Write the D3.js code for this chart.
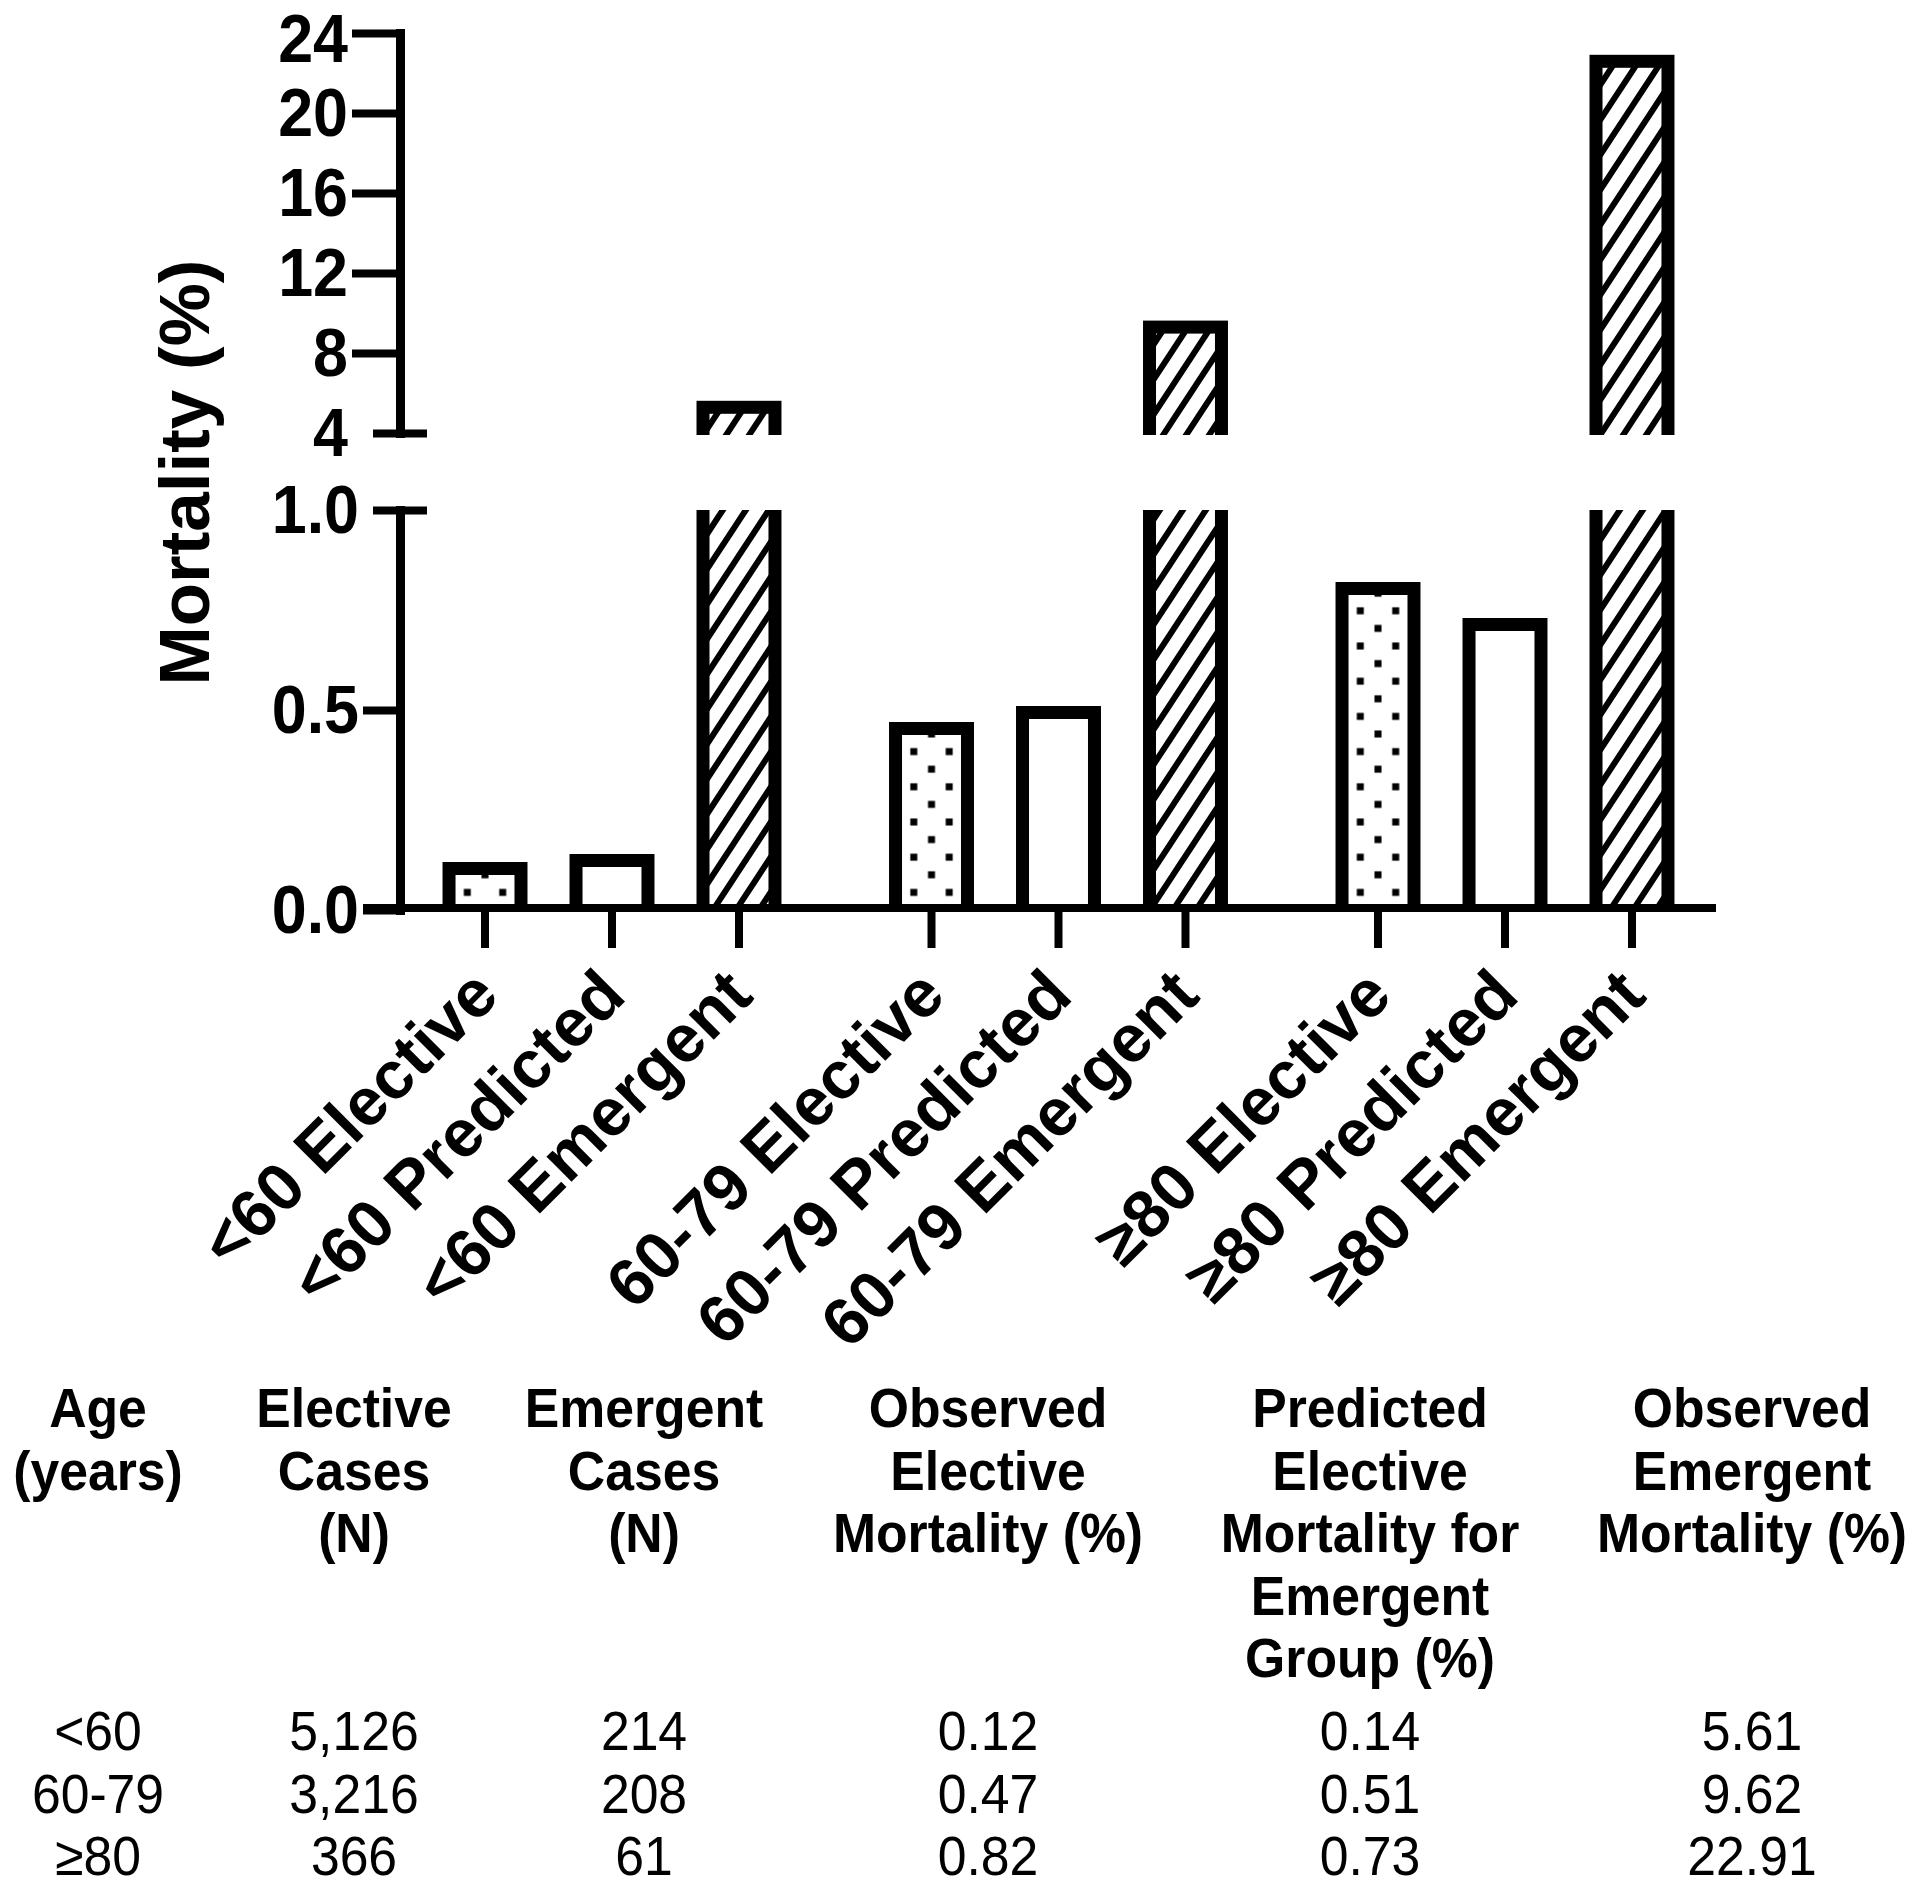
<!DOCTYPE html>
<html>
<head>
<meta charset="utf-8">
<script src="https://cdn.jsdelivr.net/npm/d3@7"></script>
<style>
  html, body { margin: 0; padding: 0; background: #ffffff; }
  svg { display: block; }
  text { font-family: "Liberation Sans", Arial, Helvetica, sans-serif; fill: #000; }
</style>
</head>
<body>
<div id="chart"></div>
<script>
// ---------------- DATA ----------------
const ageGroups = ["<60", "60-79", "\u226580"];
const barTypes = ["Elective", "Predicted", "Emergent"];
const electiveMortality = [0.12, 0.47, 0.82];
const predictedMortality = [0.14, 0.51, 0.73];
const emergentMortality = [5.61, 9.62, 22.91];
const electiveCases = [5126, 3216, 366];
const emergentCases = [214, 208, 61];
const lowerTicks = [0, 0.5, 1.0];
const upperTicks = [4, 8, 12, 16, 20, 24];
const yTitle = "Mortality (%)";
const tableHeaders = [
  ["Age", "(years)"],
  ["Elective", "Cases", "(N)"],
  ["Emergent", "Cases", "(N)"],
  ["Observed", "Elective", "Mortality (%)"],
  ["Predicted", "Elective", "Mortality for", "Emergent", "Group (%)"],
  ["Observed", "Emergent", "Mortality (%)"]
];

// ---------------- SETUP ----------------
const W = 1920, H = 1890;
const SX = 0.91; // horizontal squeeze of the reference lettering
const svg = d3.select("#chart").append("svg").attr("width", W).attr("height", H);
const defs = svg.append("defs");

const bars = [];
ageGroups.forEach((age, i) => {
  bars.push({age, type: "Elective", value: electiveMortality[i], gi: i});
  bars.push({age, type: "Predicted", value: predictedMortality[i], gi: i});
  bars.push({age, type: "Emergent", value: emergentMortality[i], gi: i});
});

const xOuter = d3.scaleBand().domain(ageGroups).range([388.75, 1728.25]).padding(0);
const xInner = d3.scaleBand().domain(barTypes).range([0, xOuter.bandwidth()])
  .paddingInner(0.331).paddingOuter(0.4235);
const bw = xInner.bandwidth();
const cx = d => xOuter(d.age) + xInner(d.type) + bw / 2;

const yLow = d3.scaleLinear().domain([0, 1]).range([910, 510]);
const yTop = d3.scaleLinear().domain([4, 24]).range([433, 33]);

const SW = 13; // bar outline
const axisX = 400;

// patterns
const hw = 23, hh = 35;
const hatch = defs.append("pattern").attr("id", "hatch")
  .attr("patternUnits", "userSpaceOnUse").attr("width", hw).attr("height", hh);
hatch.append("rect").attr("width", hw).attr("height", hh).attr("fill", "#fff");
hatch.append("path")
  .attr("d", [-1, 0, 1].map(k => `M${-5},${hh + k * hh + hh * 5 / hw} L${hw + 5},${k * hh - hh * 5 / hw}`).join(" "))
  .attr("stroke", "#000").attr("stroke-width", 6).attr("fill", "none");

bars.filter(d => d.type === "Elective").forEach(d => {
  const pw = 35.4, ph = 35.2, ds = 7;
  const p = defs.append("pattern").attr("id", "dots" + d.gi)
    .attr("patternUnits", "userSpaceOnUse")
    .attr("x", cx(d)).attr("y", yLow(0))
    .attr("width", pw).attr("height", ph);
  p.append("rect").attr("width", pw).attr("height", ph).attr("fill", "#fff");
  [[0, 0], [pw, 0], [0, ph], [pw, ph], [pw / 2, ph / 2]].forEach(([a, b]) => {
    p.append("rect").attr("x", a - ds / 2).attr("y", b - ds / 2)
      .attr("width", ds).attr("height", ds).attr("fill", "#000");
  });
});
const fillFor = d => d.type === "Emergent" ? "url(#hatch)" : d.type === "Elective" ? `url(#dots${d.gi})` : "#fff";

// clip paths
defs.append("clipPath").attr("id", "clipLow").append("rect")
  .attr("x", 0).attr("y", yLow(1)).attr("width", W).attr("height", yLow(0) - yLow(1));
defs.append("clipPath").attr("id", "clipTop").append("rect")
  .attr("x", 0).attr("y", 0).attr("width", W).attr("height", yTop(4) + 2);

// ---------------- BARS ----------------
svg.append("g").attr("clip-path", "url(#clipLow)")
  .selectAll("rect").data(bars).join("rect")
  .attr("x", d => xOuter(d.age) + xInner(d.type) + SW / 2)
  .attr("width", bw - SW)
  .attr("y", d => yLow(d.value) + SW / 2)
  .attr("height", d => yLow(0) + 20 - (yLow(d.value) + SW / 2))
  .attr("fill", fillFor).attr("stroke", "#000").attr("stroke-width", SW);

svg.append("g").attr("clip-path", "url(#clipTop)")
  .selectAll("rect").data(bars.filter(d => d.value > 4)).join("rect")
  .attr("x", d => xOuter(d.age) + xInner(d.type) + SW / 2)
  .attr("width", bw - SW)
  .attr("y", d => yTop(d.value) + SW / 2)
  .attr("height", d => yTop(4) + 30 - (yTop(d.value) + SW / 2))
  .attr("fill", fillFor).attr("stroke", "#000").attr("stroke-width", SW);

// ---------------- Y AXES ----------------
const topAxis = svg.append("g").attr("transform", `translate(${axisX},0)`)
  .call(d3.axisLeft(yTop).tickValues(upperTicks).tickFormat(d3.format("d")).tickSize(48).tickSizeOuter(0).tickPadding(4));
const lowAxis = svg.append("g").attr("transform", `translate(${axisX},0)`)
  .call(d3.axisLeft(yLow).tickValues(lowerTicks).tickFormat(d3.format(".1f")).tickSize(37).tickSizeOuter(0).tickPadding(3));

[topAxis, lowAxis].forEach(g => {
  g.select(".domain").attr("stroke", "#000").attr("stroke-width", 9).attr("stroke-linecap", "square");
  g.selectAll(".tick line").attr("stroke", "#000").attr("stroke-width", 8);
  g.selectAll(".tick text").attr("font-size", 69).attr("font-weight", "bold")
    .style("font-family", '"Liberation Sans", Arial, Helvetica, sans-serif').attr("fill", "#000");
});
topAxis.selectAll(".tick text").attr("x", -52 / SX).attr("transform", `scale(${SX},1)`);
lowAxis.selectAll(".tick text").attr("x", -41 / SX).attr("transform", `scale(${SX},1)`);
topAxis.selectAll(".tick").filter(d => d === 24).select("text").attr("dy", "0.42em");
topAxis.selectAll(".tick").filter(d => d === 4).select("line").attr("x1", -27).attr("x2", 27);
lowAxis.selectAll(".tick").filter(d => d === 1).select("line").attr("x1", -27).attr("x2", 27);

// y title
svg.append("text")
  .attr("transform", `translate(209,${(yTop(24) - 8 + yLow(0.56)) / 2 + 117}) rotate(-90)`)
  .attr("text-anchor", "middle").attr("font-size", 71).attr("font-weight", "bold")
  .text(yTitle);

// ---------------- X AXIS ----------------
svg.append("line")
  .attr("x1", 363).attr("x2", 1716).attr("y1", yLow(0) - 2).attr("y2", yLow(0) - 2)
  .attr("stroke", "#000").attr("stroke-width", 8);

const xt = svg.append("g").selectAll("g").data(bars).join("g")
  .attr("transform", d => `translate(${cx(d)},${yLow(0) - 2})`);
xt.append("line").attr("y1", 0).attr("y2", 40).attr("stroke", "#000").attr("stroke-width", 8);
xt.append("text")
  .attr("transform", "translate(0,40) rotate(-45)")
  .attr("text-anchor", "end").attr("x", -24).attr("y", 47)
  .attr("font-size", 67).attr("font-weight", "bold")
  .text(d => `${d.age} ${d.type}`);

// ---------------- TABLE ----------------
const colX = [98, 354, 644, 988, 1370, 1752];
const headBase = 1427, headStep = 62.5;
const TS = 0.94;
const tbl = svg.append("g");
tableHeaders.forEach((lines, c) => {
  tbl.append("g").selectAll("text").data(lines).join("text")
    .attr("transform", (d, i) => `translate(${colX[c]},${headBase + i * headStep}) scale(${TS},1)`)
    .attr("text-anchor", "middle").attr("font-size", 55).attr("font-weight", "bold")
    .text(d => d);
});
const fmtN = d3.format(","), fmtP = d3.format(".2f");
const rows = ageGroups.map((age, i) => [age, fmtN(electiveCases[i]), fmtN(emergentCases[i]),
  fmtP(electiveMortality[i]), fmtP(predictedMortality[i]), fmtP(emergentMortality[i])]);
const rowBase = [1750, 1813, 1875];
rows.forEach((r, ri) => {
  tbl.append("g").selectAll("text").data(r).join("text")
    .attr("transform", (d, c) => `translate(${colX[c]},${rowBase[ri]}) scale(${TS},1)`)
    .attr("text-anchor", "middle").attr("font-size", 55).text(d => d);
});
</script>
</body>
</html>
